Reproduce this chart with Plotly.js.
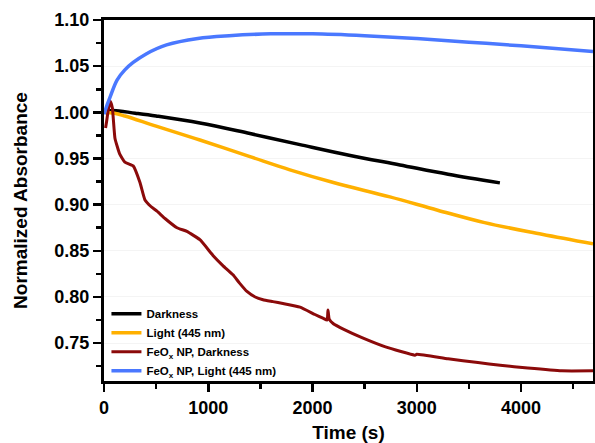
<!DOCTYPE html>
<html>
<head>
<meta charset="utf-8">
<script src="https://cdn.plot.ly/plotly-3.0.1.min.js"></script>
<style>html,body{margin:0;padding:0;background:#fff;}#chart{width:595px;height:443px;}</style>
</head>
<body>
<div id="chart"></div>
<script>
// Darkness
var darkT = [0, 80, 300, 500, 920, 1400, 1879, 2350, 2838, 3300, 3797];
var darkY = [1.000, 1.002, 0.999, 0.996, 0.9885, 0.977, 0.965, 0.9535, 0.943, 0.933, 0.9236];
// Light (445 nm)
var lightT = [0, 100, 200, 500, 920, 1400, 1783, 2200, 2742, 3200, 3650, 4200, 4690];
var lightY = [1.000, 0.999, 0.996, 0.985, 0.970, 0.952, 0.9377, 0.924, 0.9084, 0.894, 0.8805, 0.868, 0.8576];
// FeOx NP, Darkness
var npDarkT = [15, 25, 40, 60, 80, 105, 150, 200, 280, 345, 393, 450, 508, 585, 700, 795, 920, 1045, 1140, 1237, 1300, 1371, 1450, 1525, 1620, 1716, 1880, 2023, 2100, 2140, 2148, 2160, 2200, 2300, 2474, 2700, 2982, 3000, 3300, 3586, 3800, 4065, 4391, 4690];
var npDarkY = [0.983, 0.990, 1.002, 1.012, 1.005, 0.972, 0.955, 0.946, 0.942, 0.924, 0.905, 0.898, 0.893, 0.885, 0.875, 0.871, 0.862, 0.845, 0.834, 0.824, 0.815, 0.806, 0.800, 0.797, 0.795, 0.793, 0.789, 0.781, 0.777, 0.775, 0.786, 0.776, 0.771, 0.765, 0.756, 0.746, 0.737, 0.738, 0.733, 0.729, 0.726, 0.723, 0.720, 0.720];
// FeOx NP, Light (445 nm)
var npLightT = [0, 30, 60, 125, 200, 280, 400, 600, 900, 1200, 1600, 2000, 2500, 3000, 3500, 4000, 4690];
var npLightY = [0.998, 1.008, 1.017, 1.035, 1.046, 1.054, 1.063, 1.073, 1.080, 1.083, 1.085, 1.085, 1.083, 1.080, 1.076, 1.072, 1.066];

var seriesNames = ['Darkness', 'Light (445 nm)', 'FeO<sub>x</sub> NP, Darkness', 'FeO<sub>x</sub> NP, Light (445 nm)'];
var colors = ['#000000', '#FFB000', '#8B0A0A', '#4A78FF'];

var traces = [
  {x: darkT, y: darkY, name: seriesNames[0], line: {color: colors[0], width: 3.5, shape: 'spline'}},
  {x: lightT, y: lightY, name: seriesNames[1], line: {color: colors[1], width: 3.5, shape: 'spline'}},
  {x: npDarkT, y: npDarkY, name: seriesNames[2], line: {color: colors[2], width: 3, shape: 'spline', smoothing: 0.4}},
  {x: npLightT, y: npLightY, name: seriesNames[3], line: {color: colors[3], width: 3.5, shape: 'spline'}}
].map(function(t){ t.type = 'scatter'; t.mode = 'lines'; return t; });

var fontFam = 'Arial, "Liberation Sans", sans-serif';
var layout = {
  width: 595, height: 443,
  margin: {l: 104, r: 2, t: 20, b: 62},
  paper_bgcolor: '#fff', plot_bgcolor: '#fff',
  showlegend: true,
  legend: {x: 0.005, y: -0.012, xanchor: 'left', yanchor: 'bottom', bgcolor: 'rgba(0,0,0,0)',
           font: {family: fontFam, size: 11.5, color: '#000', weight: 'bold'}, tracegroupgap: 0, itemwidth: 30},
  xaxis: {
    range: [0, 4690], tickvals: [0, 1000, 2000, 3000, 4000],
    ticks: 'outside', ticklen: 8, tickwidth: 2.5, tickcolor: '#000',
    minor: {dtick: 500, ticks: 'outside', ticklen: 5, tickwidth: 2.5, tickcolor: '#000', showgrid: false},
    showline: true, linewidth: 3, linecolor: '#000', mirror: true,
    showgrid: false, zeroline: false,
    tickfont: {family: fontFam, size: 18, color: '#000', weight: 'bold'},
    title: {text: 'Time (s)', font: {family: fontFam, size: 19, color: '#000', weight: 'bold'}, standoff: 14}
  },
  yaxis: {
    range: [0.709, 1.10], dtick: 0.05, tick0: 0.75, tickformat: '.2f',
    ticks: 'outside', ticklen: 8, tickwidth: 2.5, tickcolor: '#000',
    minor: {dtick: 0.025, tick0: 0.725, ticks: 'outside', ticklen: 5, tickwidth: 2.5, tickcolor: '#000', showgrid: false},
    showline: true, linewidth: 3, linecolor: '#000', mirror: true,
    showgrid: true, gridcolor: '#f4f4f4', gridwidth: 1, zeroline: false,
    tickfont: {family: fontFam, size: 18, color: '#000', weight: 'bold'},
    title: {text: 'Normalized Absorbance', font: {family: fontFam, size: 19, color: '#000', weight: 'bold'}, standoff: 22}
  }
};

Plotly.newPlot('chart', traces, layout, {staticPlot: true, displayModeBar: false});
</script>
</body>
</html>
